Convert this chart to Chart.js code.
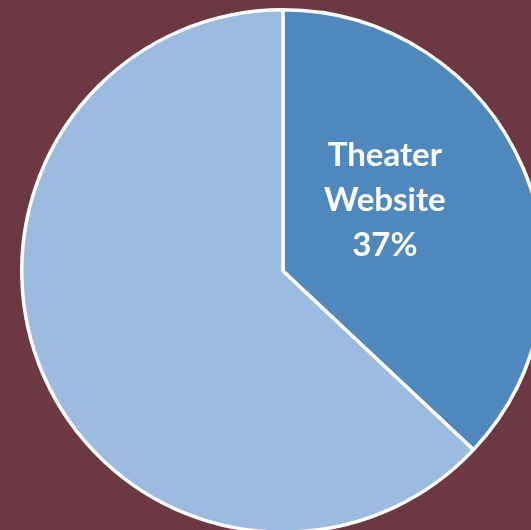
<!DOCTYPE html>
<html>
<head>
<meta charset="utf-8">
<script src="https://cdn.jsdelivr.net/npm/chart.js@4"></script>
<style>
    html, body { margin: 0; padding: 0; width: 531px; height: 530px; overflow: hidden; background: #6B3843; }
    #wrap { position: absolute; left: 20px; top: 8px; width: 526px; height: 526px; }
</style>
</head>
<body>
<div id="wrap"><canvas id="pieChart" width="526" height="526"></canvas></div>
<script>
const categories = ["Theater Website", "Other"];
const shares = [37, 63];
const sliceColors = ["#4F88BD", "#9BBBE0"];
const shownLabels = [["Theater", "Website", "37%"], null];

// draws the label inside the dark slice, as in the original
const sliceLabels = {
    id: "sliceLabels",
    afterDatasetsDraw(chart) {
        const ctx = chart.ctx;
        const arcs = chart.getDatasetMeta(0).data;
        arcs.forEach((arc, i) => {
            const lines = shownLabels[i];
            if (!lines) return;
            const r = arc.outerRadius;
            const cx = arc.x + r * 0.39;
            const cy = arc.y - r * 0.27;
            ctx.save();
            ctx.fillStyle = "#FFFFFF";
            ctx.font = "bold 33px Lato";
            ctx.textAlign = "center";
            ctx.textBaseline = "middle";
            const lh = 45;
            lines.forEach((t, k) => {
                ctx.fillText(t, cx, cy + (k - (lines.length - 1) / 2) * lh);
            });
            ctx.restore();
        });
    }
};

new Chart(document.getElementById("pieChart"), {
    type: "pie",
    data: {
        labels: categories,
        datasets: [{
            data: shares,
            backgroundColor: sliceColors,
            borderColor: "#FFFFFF",
            borderWidth: 3.5
        }]
    },
    options: {
        responsive: false,
        animation: false,
        plugins: {
            legend: { display: false },
            tooltip: { enabled: false }
        }
    },
    plugins: [sliceLabels]
});
</script>
</body>
</html>
